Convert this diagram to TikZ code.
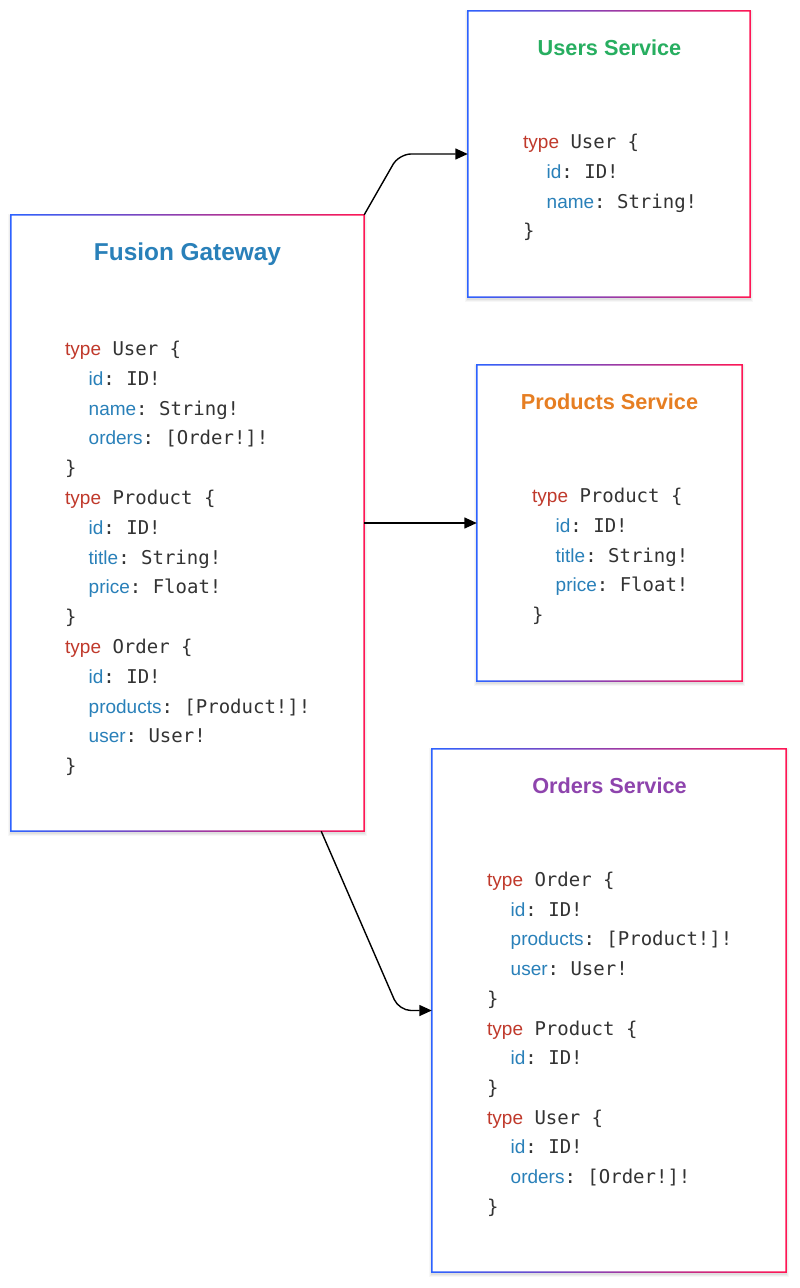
\documentclass[tikz,border=0pt]{standalone}
\usepackage{fontspec}
\setmainfont{Liberation Sans}
\setsansfont{Liberation Sans}
\setmonofont{DejaVu Sans Mono}
\usetikzlibrary{calc,arrows.meta}
\definecolor{bordL}{RGB}{45,98,255}
\definecolor{bordR}{RGB}{255,22,84}
\definecolor{kwc}{RGB}{192,57,43}
\definecolor{fdc}{RGB}{41,128,185}
\definecolor{txc}{RGB}{51,51,51}
\definecolor{gwc}{RGB}{41,128,185}
\definecolor{usc}{RGB}{39,174,96}
\definecolor{prc}{RGB}{230,126,34}
\definecolor{orc}{RGB}{142,68,173}
\newcommand{\kwd}[1]{{\sffamily\color{kwc}#1}}
\newcommand{\fld}[1]{{\sffamily\color{fdc}#1}}
\tikzset{
  svcbox/.style={draw=none,inner sep=0pt,minimum width=#1},
  titletext/.style={font=\sffamily\bfseries\fontsize{21.7}{24}\selectfont},
  codeline/.style={anchor=base west,inner sep=0pt,text=txc,font=\ttfamily\fontsize{19}{22}\selectfont},
  conn/.style={line width=1.4pt,draw=black,rounded corners=12pt,-{Triangle[length=12.5pt,width=11pt]}}
}
\newcommand{\gradframe}[1]{%
  \foreach \k/\op in {3/0.03,2/0.04,1/0.05}{
    \fill[black,opacity=\op] ($(#1.north west)+(-\k,-\k+2)$) rectangle ($(#1.south east)+(\k,\k+2)$);
  }
  \fill[white] (#1.north west) rectangle (#1.south east);
  \shade[left color=bordL,right color=bordR,even odd rule]
    ($(#1.north west)+(-0.75,-0.75)$) rectangle ($(#1.south east)+(0.75,0.75)$)
    ($(#1.north west)+(0.75,0.75)$) rectangle ($(#1.south east)+(-0.75,-0.75)$);
}
\begin{document}
\begin{tikzpicture}[x=1pt,y=-1pt]
\useasboundingbox[fill=white] (0,0) rectangle (800,1288);
% boxes
\node[svcbox=353pt,minimum height=616pt] (gw) at (187.5,523) {};
\node[svcbox=282pt,minimum height=286pt] (us) at (609,154) {};
\node[svcbox=265pt,minimum height=316pt] (pr) at (609.5,523) {};
\node[svcbox=354pt,minimum height=523pt] (or) at (609,1010.5) {};
\gradframe{gw}
\gradframe{us}
\gradframe{pr}
\gradframe{or}
% titles
\node[titletext,text=gwc,font=\sffamily\bfseries\fontsize{24.4}{28}\selectfont] (gwt) at (187.5,254.5) {Fusion Gateway};
\node[titletext,text=usc] (ust) at (609.5,47.5) {Users Service};
\node[titletext,text=prc] (prt) at (609.5,402) {Products Service};
\node[titletext,text=orc] (ort) at (609.5,786) {Orders Service};
% code: gateway
\foreach \ind/\txt [count=\i] in {
  0/{\kwd{type} User \{},
  1/{\fld{id}: ID!},
  1/{\fld{name}: String!},
  1/{\fld{orders}: [Order!]!},
  0/{\}},
  0/{\kwd{type} Product \{},
  1/{\fld{id}: ID!},
  1/{\fld{title}: String!},
  1/{\fld{price}: Float!},
  0/{\}},
  0/{\kwd{type} Order \{},
  1/{\fld{id}: ID!},
  1/{\fld{products}: [Product!]!},
  1/{\fld{user}: User!},
  0/{\}}}{
  \node[codeline] (g\i) at (65+23.5*\ind,355.5+29.8*\i-29.8) {\txt};
}
% code: users
\foreach \ind/\txt [count=\i] in {
  0/{\kwd{type} User \{},
  1/{\fld{id}: ID!},
  1/{\fld{name}: String!},
  0/{\}}}{
  \node[codeline] (u\i) at (523+23.5*\ind,148.5+29.8*\i-29.8) {\txt};
}
% code: products
\foreach \ind/\txt [count=\i] in {
  0/{\kwd{type} Product \{},
  1/{\fld{id}: ID!},
  1/{\fld{title}: String!},
  1/{\fld{price}: Float!},
  0/{\}}}{
  \node[codeline] (p\i) at (532+23.5*\ind,502.5+29.8*\i-29.8) {\txt};
}
% code: orders
\foreach \ind/\txt [count=\i] in {
  0/{\kwd{type} Order \{},
  1/{\fld{id}: ID!},
  1/{\fld{products}: [Product!]!},
  1/{\fld{user}: User!},
  0/{\}},
  0/{\kwd{type} Product \{},
  1/{\fld{id}: ID!},
  0/{\}},
  0/{\kwd{type} User \{},
  1/{\fld{id}: ID!},
  1/{\fld{orders}: [Order!]!},
  0/{\}}}{
  \node[codeline] (o\i) at (487+23.5*\ind,886.5+29.7*\i-29.7) {\txt};
}
% connectors
\coordinate (b1) at (399,154);
\coordinate (s3) at ($(gw.south east)+(-43,0)$);
\coordinate (b3) at (399,1010.5);
\draw[conn] (gw.north east) -- (b1) -- (us.west);
\draw[conn] (gw.east) -- (pr.west);
\draw[conn] (s3) -- (b3) -- (or.west);
\end{tikzpicture}
\end{document}
